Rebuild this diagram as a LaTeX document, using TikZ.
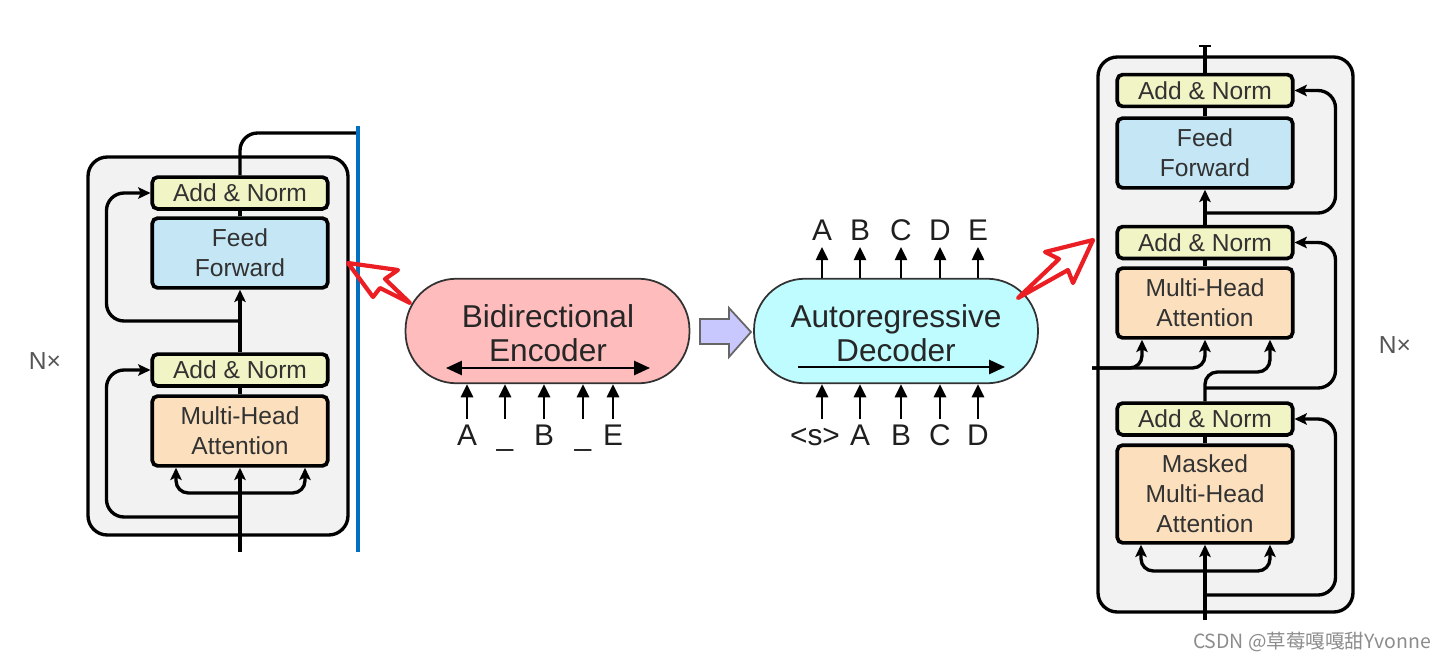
\documentclass[tikz,border=0pt]{standalone}
\usepackage{fontspec}
\setmainfont{Liberation Sans}
\newfontfamily\cjkfont{Noto Sans CJK SC}
\usetikzlibrary{arrows.meta,calc}
\definecolor{anfill}{RGB}{241,244,196}
\definecolor{fffill}{RGB}{196,230,245}
\definecolor{mhafill}{RGB}{252,224,190}
\definecolor{outerfill}{RGB}{242,242,242}
\definecolor{encfill}{RGB}{255,188,188}
\definecolor{decfill}{RGB}{190,252,255}
\definecolor{lavfill}{RGB}{200,200,255}
\definecolor{redc}{RGB}{235,30,35}
\definecolor{bluec}{RGB}{0,112,192}
\definecolor{boxtext}{RGB}{50,50,50}
\definecolor{nxgray}{RGB}{85,85,85}
\definecolor{pillborder}{RGB}{50,50,50}
\definecolor{wmgray}{RGB}{140,140,140}
\begin{document}
\begin{tikzpicture}[x=0.02cm,y=-0.02cm,
  blk/.style={draw=black, line width=2.1pt, rounded corners=3pt, minimum width=99.8pt, inner sep=0pt, align=center, font=\fontsize{14}{17}\selectfont, text=boxtext},
  anb/.style={blk, fill=anfill, minimum height=18.1pt},
  ffb/.style={blk, fill=fffill, minimum height=39.7pt},
  mhab/.style={blk, fill=mhafill, minimum height=39.7pt},
  mmhab/.style={blk, fill=mhafill, minimum height=55.6pt},
  outerbox/.style={draw=black, line width=1.9pt, fill=outerfill, rounded corners=11pt},
  conn/.style={line width=1.9pt, draw=black},
  carr/.style={conn, -{Stealth[length=7pt,width=6.5pt,inset=1.5pt]}},
  rc/.style={rounded corners=7pt},
  pill/.style={draw=pillborder, line width=1pt, rounded corners=29pt, minimum width=161.6pt, minimum height=59.5pt, inner sep=0pt},
  pilltext/.style={align=center, font=\fontsize{18}{19.3}\selectfont, text=black!85, inner sep=0pt},
  tarr/.style={line width=1.2pt, -{Triangle[length=7.5pt,width=7pt]}},
  bigarr/.style={line width=1.2pt, -{Triangle[length=9pt,width=8pt]}},
  bigdarr/.style={line width=1.2pt, {Triangle[length=9pt,width=8pt]}-{Triangle[length=9pt,width=8pt]}},
  tok/.style={anchor=base, font=\fontsize{17}{20}\selectfont, text=black!88, inner sep=0pt},
  nx/.style={font=\fontsize{14}{17}\selectfont, text=nxgray},
  redarr/.style={draw=redc, line width=2.4pt, line join=round},
]
\useasboundingbox (0,0) rectangle (1445,660);

% ===== Left encoder block =====
\draw[outerbox] (88,157) rectangle (348,535);
\node[anb] (an1) at (240,193) {Add \& Norm};
\node[ffb] (ff1) at (240,253) {Feed\\Forward};
\node[anb] (an2) at (240,370) {Add \& Norm};
\node[mhab] (mha1) at (240,431) {Multi-Head\\Attention};
\node[nx] (lnx) at (45,361) {N×};

\coordinate (Lin) at (240,552);
\coordinate (Lbr) at (240,493);
\coordinate (Lr1) at (240,517);
\coordinate (Lr2) at (240,321);
\coordinate (Lout) at (358,133);
\draw[carr] (Lin) -- (mha1.south);
\draw[carr,rc] (Lbr) -| ($(mha1.south)+(-64,0)$);
\draw[carr,rc] (Lbr) -| ($(mha1.south)+(65,0)$);
\draw[carr,rounded corners=10pt] (Lr1) -| ($(an2.west)+(-44,0)$) -- (an2.west);
\draw[conn] (mha1.north) -- (an2.south);
\draw[carr] (an2.north) -- (ff1.south);
\draw[carr,rounded corners=10pt] (Lr2) -| ($(an1.west)+(-44,0)$) -- (an1.west);
\draw[conn] (ff1.north) -- (an1.south);
\draw[conn,rounded corners=10pt] (an1.north) |- (Lout);

\coordinate (blueT) at (358,126);
\coordinate (blueB) at (358,552);
\draw[draw=bluec, line width=2.2pt] (blueT) -- (blueB);

% red callout arrow 1
\draw[redarr] (348,263) -- (398,270) -- (385,279) -- (410,303) -- (380,288) -- (373,297) -- cycle;

% ===== Encoder pill =====
\node[pill, fill=encfill] (enc) at (547.5,331) {};
\node[pilltext] (enct) at (548,333) {Bidirectional\\Encoder};
\coordinate (ed1) at (446,368);
\coordinate (ed2) at (650,368);
\draw[bigdarr] (ed1) -- (ed2);
\foreach \x/\n/\t in {467/1/A,505/2/\_,544/3/B,583/4/\_,613/5/E}{
  \coordinate (ei\n) at (\x,419);
  \draw[tarr] (ei\n) -- (enc.south -| ei\n);
  \node[tok] (el\n) at (\x,445) {\t};
}

% lavender block arrow
\draw[draw=black!60, line width=1pt, fill=lavfill, line join=miter] (700,319) -- (729,319) -- (729,308) -- (751,332) -- (729,357) -- (729,344) -- (700,344) -- cycle;

% ===== Decoder pill =====
\node[pill, fill=decfill] (dec) at (896,331) {};
\node[pilltext] (dect) at (896,333) {Autoregressive\\Decoder};
\coordinate (dd1) at (798,367);
\coordinate (dd2) at (1005,367);
\draw[bigarr] (dd1) -- (dd2);
\foreach \x/\n/\t in {822/1/A,860/2/B,901/3/C,940/4/D,978/5/E}{
  \coordinate (do\n) at (\x,247);
  \draw[tarr] (dec.north -| do\n) -- (do\n);
  \node[tok] (dol\n) at (\x,240) {\t};
}
\foreach \x/\n in {822/1,860/2,901/3,940/4,978/5}{
  \coordinate (di\n) at (\x,419);
  \draw[tarr] (di\n) -- (dec.south -| di\n);
}
\node[tok] (dil1) at (815,445) {<s>};
\node[tok] (dil2) at (860,445) {A};
\node[tok] (dil3) at (901,445) {B};
\node[tok] (dil4) at (940,445) {C};
\node[tok] (dil5) at (978,445) {D};

% red callout arrow 2
\draw[redarr] (1093,240) -- (1045,252) -- (1059,259) -- (1018,298) -- (1068,270) -- (1073,283) -- cycle;

% ===== Right decoder block =====
\draw[outerbox] (1098,57) rectangle (1353,612);
\node[anb] (an3) at (1205,90.5) {Add \& Norm};
\node[ffb] (ff2) at (1205,153) {Feed\\Forward};
\node[anb] (an4) at (1205,242.5) {Add \& Norm};
\node[mhab] (mha2) at (1205,303) {Multi-Head\\Attention};
\node[anb] (an5) at (1205,419) {Add \& Norm};
\node[mmhab] (mmha) at (1205,494) {Masked\\Multi-Head\\Attention};
\node[nx] (rnx) at (1395,345) {N×};

\coordinate (Rin) at (1205,620);
\coordinate (Rbr) at (1205,571);
\coordinate (Rr1) at (1205,595);
\coordinate (Rr2) at (1205,388);
\coordinate (Rq) at (1270,372);
\coordinate (Rext) at (1092,368);
\coordinate (Rr3) at (1205,213);
\coordinate (Rtop) at (1205,46);
\coordinate (tickL) at (1199,46);
\coordinate (tickR) at (1211,46);

\draw[carr] (Rin) -- (mmha.south);
\draw[carr,rc] (Rbr) -| ($(mmha.south)+(-64,0)$);
\draw[carr,rc] (Rbr) -| ($(mmha.south)+(65,0)$);
\draw[carr,rounded corners=10pt] (Rr1) -| ($(an5.east)+(41,0)$) -- (an5.east);
\draw[conn] (mmha.north) -- (an5.south);
\draw[carr,rc] (an5.north) |- (Rq) -- ($(mha2.south)+(65,0)$);
\draw[carr,rounded corners=10pt] (Rr2) -| ($(an4.east)+(41,0)$) -- (an4.east);
\draw[carr,rc] (Rext) -| ($(mha2.south)+(-63,0)$);
\draw[carr,rc] (Rext) -| (mha2.south);
\draw[conn] (mha2.north) -- (an4.south);
\draw[carr] (an4.north) -- (ff2.south);
\draw[carr,rounded corners=10pt] (Rr3) -| ($(an3.east)+(41,0)$) -- (an3.east);
\draw[conn] (ff2.north) -- (an3.south);
\draw[conn] (an3.north) -- (Rtop);
\draw[line width=1.6pt] (tickL) -- (tickR);

% watermark
\node[font=\cjkfont\fontsize{11.1}{13}\selectfont, text=wmgray, inner sep=0pt] (wm) at (1312,642) {CSDN @草莓嘎嘎甜Yvonne};
\end{tikzpicture}
\end{document}
